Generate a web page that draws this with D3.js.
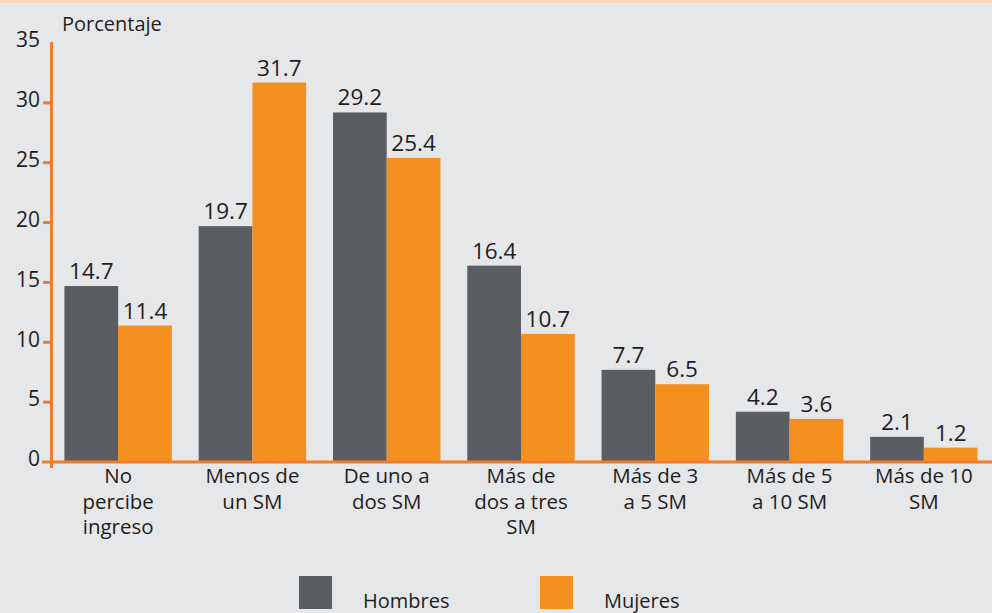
<!DOCTYPE html>
<html>
<head>
<meta charset="utf-8">
<script src="https://cdn.jsdelivr.net/npm/d3@7"></script>
<style>
  body { margin: 0; background: #e6e7e9; }
  svg { display: block; font-family: "Open Sans", sans-serif; }
</style>
</head>
<body>
<div id="chart-area"></div>
<script>
// data
const categories = [
    ["No", "percibe", "ingreso"],
    ["Menos de", "un SM"],
    ["De uno a", "dos SM"],
    ["Más de", "dos a tres", "SM"],
    ["Más de 3", "a 5 SM"],
    ["Más de 5", "a 10 SM"],
    ["Más de 10", "SM"]
]
const hombres = [14.7, 19.7, 29.2, 16.4, 7.7, 4.2, 2.1]
const mujeres = [11.4, 31.7, 25.4, 10.7, 6.5, 3.6, 1.2]
const seriesNames = ["Hombres", "Mujeres"]
const yTicks = [0, 5, 10, 15, 20, 25, 30, 35]

const colors = ["#5a5d62", "#f39020"]
const axisColor = "#ef7d2d"
const textColor = "#1f1d1e"

const W = 992, H = 613
const svg = d3.select("#chart-area").append("svg")
    .attr("width", W)
    .attr("height", H)

svg.append("rect").attr("width", W).attr("height", H).attr("fill", "#e6e7e9")
// thin peach band at top
svg.append("rect").attr("width", W).attr("height", 3).attr("fill", "#f8d8b4")

const y = d3.scaleLinear().domain([0, 35]).range([462, 43])
const x = d3.scaleBand().domain(d3.range(categories.length))
    .range([51, 991]).paddingInner(0.2).paddingOuter(0.1)
const xs = d3.scaleBand().domain([0, 1]).range([0, x.bandwidth()])

const rows = categories.map((c, i) => ({ i, vals: [hombres[i], mujeres[i]] }))

// bars
const g = svg.selectAll(".grp").data(rows).enter().append("g")
    .attr("transform", d => `translate(${x(d.i)},0)`)

g.selectAll("rect").data(d => d.vals).enter().append("rect")
    .attr("x", (d, j) => xs(j))
    .attr("y", d => y(d))
    .attr("width", xs.bandwidth())
    .attr("height", d => y(0) - y(d))
    .attr("fill", (d, j) => colors[j])

g.selectAll("text.val").data(d => d.vals).enter().append("text")
    .attr("class", "val")
    .attr("x", (d, j) => xs(j) + xs.bandwidth() / 2)
    .attr("y", d => y(d) - 7)
    .attr("text-anchor", "middle")
    .attr("font-size", 22.5)
    .attr("fill", textColor)
    .text(d => d.toFixed(1))

// y axis
svg.append("line")
    .attr("x1", 51.5).attr("x2", 51.5).attr("y1", 42).attr("y2", 468)
    .attr("stroke", axisColor).attr("stroke-width", 3)

svg.selectAll(".ytick").data(yTicks.slice(1, -1)).enter().append("line")
    .attr("x1", 43).attr("x2", 51)
    .attr("y1", d => y(d)).attr("y2", d => y(d))
    .attr("stroke", axisColor).attr("stroke-width", 3)

svg.selectAll(".ylab").data(yTicks).enter().append("text")
    .attr("x", 40)
    .attr("y", d => y(d) - 3)
    .attr("dy", "0.35em")
    .attr("text-anchor", "end")
    .attr("font-size", 21)
    .attr("fill", textColor)
    .text(d => d)

// baseline
svg.append("line")
    .attr("x1", 42).attr("x2", W).attr("y1", 462).attr("y2", 462)
    .attr("stroke", axisColor).attr("stroke-width", 3)

svg.append("text")
    .attr("x", 62).attr("y", 31)
    .attr("font-size", 20)
    .attr("fill", textColor)
    .text("Porcentaje")

// category labels
svg.selectAll(".cat").data(categories).enter().append("text")
    .attr("x", (d, i) => x(i) + x.bandwidth() / 2)
    .attr("y", 483)
    .attr("text-anchor", "middle")
    .attr("font-size", 20.5)
    .attr("fill", textColor)
    .selectAll("tspan").data(d => d).enter().append("tspan")
    .attr("x", function () { return this.parentNode.getAttribute("x") })
    .attr("dy", (d, k) => k === 0 ? 0 : 25.5)
    .text(d => d)

// legend
const legX = [299, 540]
const leg = svg.selectAll(".leg").data(seriesNames).enter().append("g")
    .attr("transform", (d, i) => `translate(${legX[i]},576)`)
leg.append("rect").attr("width", 33).attr("height", 33)
    .attr("fill", (d, i) => colors[i])
leg.append("text")
    .attr("x", 64).attr("y", 32)
    .attr("font-size", 20)
    .attr("fill", textColor)
    .text(d => d)
</script>
</body>
</html>
